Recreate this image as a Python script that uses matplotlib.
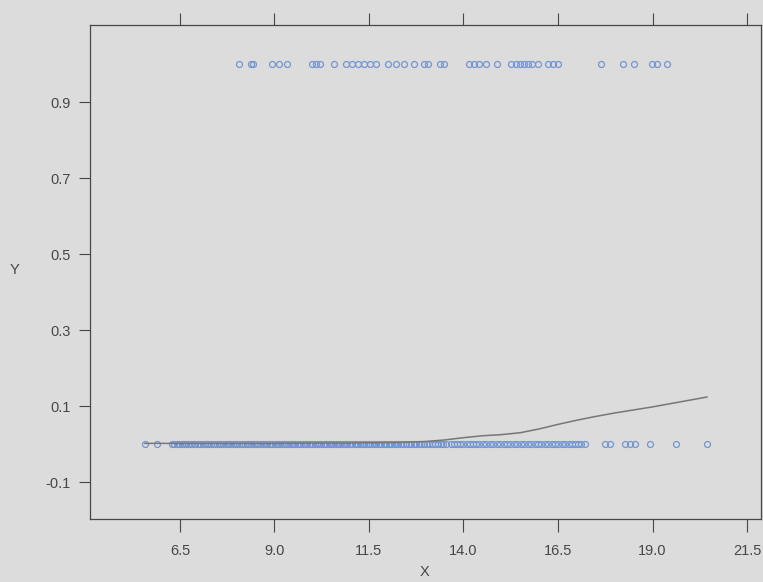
import matplotlib
matplotlib.use("Agg")
import matplotlib.pyplot as plt

plt.rcParams['font.family'] = ['Liberation Sans', 'DejaVu Sans']

# Cases with outcome Y = 1
x_pos = [8.06, 8.38, 8.43, 8.93, 9.12, 9.33, 9.99, 10.10, 10.20, 10.57,
         10.89, 11.05, 11.21, 11.37, 11.53, 11.69, 12.00, 12.21, 12.43, 12.69,
         12.96, 13.06, 13.38, 13.48, 14.15, 14.28, 14.41, 14.60, 14.89, 15.26,
         15.39, 15.49, 15.60, 15.71, 15.81, 15.97, 16.24, 16.37, 16.50, 17.64,
         18.22, 18.51, 18.99, 19.12, 19.39]

# Cases with outcome Y = 0
x_neg = [5.57, 5.89, 6.29, 6.35, 6.42, 6.48, 6.55, 6.61, 6.66, 6.72, 6.80, 6.86,
         6.91, 6.97, 7.04, 7.10, 7.15, 7.22, 7.28, 7.33, 7.41, 7.47, 7.52, 7.58,
         7.65, 7.71, 7.77, 7.83, 7.90, 7.96, 8.02, 8.07, 8.14, 8.21, 8.26, 8.33,
         8.39, 8.45, 8.50, 8.57, 8.63, 8.70, 8.76, 8.81, 8.88, 8.94, 9.01, 9.06,
         9.12, 9.19, 9.25, 9.31, 9.37, 9.44, 9.50, 9.55, 9.62, 9.68, 9.75, 9.81,
         9.87, 9.93, 9.99, 10.06, 10.12, 10.18, 10.24, 10.31, 10.37, 10.43, 10.49,
         10.56, 10.62, 10.68, 10.74, 10.81, 10.87, 10.93, 10.99, 11.06, 11.12,
         11.18, 11.25, 11.31, 11.37, 11.43, 11.50, 11.57, 11.63, 11.69, 11.76,
         11.83, 11.89, 11.95, 12.02, 12.08, 12.15, 12.22, 12.28, 12.35, 12.41,
         12.48, 12.55, 12.61, 12.68, 12.75, 12.82, 12.88, 12.95, 13.03, 13.10,
         13.17, 13.24, 13.32, 13.40, 13.47, 13.55, 13.66, 13.74, 13.82, 13.91,
         14.00, 14.08, 14.16, 14.25, 14.33, 14.42, 14.52, 14.60, 14.69, 14.78,
         14.88, 14.97, 15.06, 15.15, 15.24, 15.33, 15.42, 15.52, 15.61, 15.70,
         15.79, 15.88, 15.97, 16.06, 16.15, 16.24, 16.33, 16.42, 16.51, 16.60,
         16.69, 16.78, 16.86, 16.95, 17.04, 17.12, 17.21, 17.74, 17.88, 18.27,
         18.40, 18.54, 18.93, 19.62, 20.44]

# Smoothed fit of Y on X
fit_x = [5.57, 7.0, 8.0, 9.0, 10.0, 11.0, 12.0, 12.5, 13.0, 13.5, 14.0, 14.5,
         15.0, 15.5, 16.0, 16.5, 17.0, 17.5, 18.0, 18.5, 19.0, 19.5, 20.0, 20.44]
fit_y = [0.002, 0.002, 0.002, 0.002, 0.003, 0.003, 0.004, 0.005, 0.007, 0.011,
         0.017, 0.022, 0.025, 0.030, 0.040, 0.052, 0.063, 0.073, 0.082, 0.090,
         0.098, 0.107, 0.116, 0.124]

x_ticks = [6.5, 9.0, 11.5, 14.0, 16.5, 19.0, 21.5]
y_ticks = [-0.1, 0.1, 0.3, 0.5, 0.7, 0.9]

bg = '#dcdcdc'
ink = '#474747'
pt_color = '#7396d2'

fig = plt.figure(figsize=(7.63, 5.82), dpi=100, facecolor=bg)
ax = fig.add_axes([90 / 763, 63 / 582, 671 / 763, 494 / 582], facecolor=bg)

ax.plot(x_pos, [1.0] * len(x_pos), linestyle='none', marker='o', markersize=4.3,
        markerfacecolor='none', markeredgecolor=pt_color, markeredgewidth=0.9)
ax.plot(x_neg, [0.0] * len(x_neg), linestyle='none', marker='o', markersize=4.3,
        markerfacecolor='none', markeredgecolor=pt_color, markeredgewidth=0.9)
ax.plot(fit_x, fit_y, color='#777777', linewidth=1.1)

ax.set_xlim(4.12, 21.87)
ax.set_ylim(-0.197, 1.103)

ax.set_xticks(x_ticks)
ax.set_xticklabels([f"{v:.1f}" for v in x_ticks])
ax.set_yticks(y_ticks)
ax.set_yticklabels([f"{v:.1f}" for v in y_ticks])

ax.tick_params(axis='x', direction='out', length=9, width=0.8, color=ink,
               labelsize=10.5, labelcolor=ink, pad=9, top=True, labeltop=False)
ax.tick_params(axis='y', direction='out', length=8, width=0.8, color=ink,
               labelsize=10.5, labelcolor=ink, pad=6)

for sp in ax.spines.values():
    sp.set_color(ink)
    sp.set_linewidth(0.9)

fig.text(15 / 763, 1 - 270 / 582, 'Y', ha='center', va='center',
         fontsize=10.5, color=ink)
fig.text(425 / 763, 1 - 572 / 582, 'X', ha='center', va='center',
         fontsize=10.5, color=ink)

fig.savefig('out.png', dpi=100, facecolor=bg)
